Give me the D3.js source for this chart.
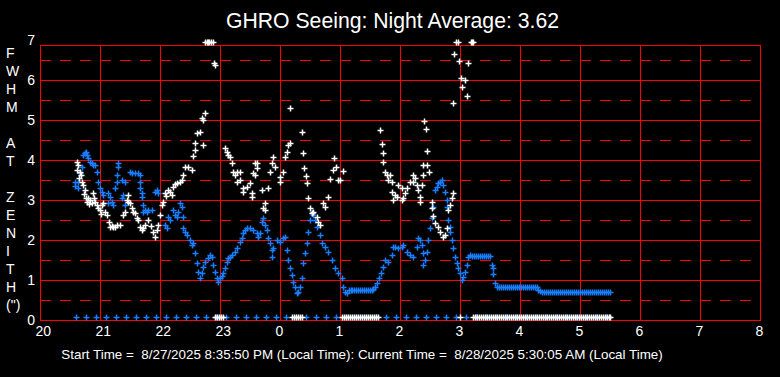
<!DOCTYPE html>
<html><head><meta charset="utf-8">
<script src="https://cdn.jsdelivr.net/npm/d3@7/dist/d3.min.js"></script>
<style>
html,body{margin:0;padding:0;background:#000;}
svg{display:block;font-family:"Liberation Sans",Arial,sans-serif;}
</style>
</head><body>
<svg id="chart" width="780" height="377"></svg>
<script>
// ---------------- data ----------------
const titleText = "GHRO Seeing: Night Average: 3.62";
const footerText = "Start Time =  8/27/2025 8:35:50 PM (Local Time): Current Time =  8/28/2025 5:30:05 AM (Local Time)";
const yLabelLetters = ["F","W","H","M","","A","T","","Z","E","N","I","T","H","(\")"];
const xTickHours = [20,21,22,23,24,25,26,27,28,29,30,31,32];
const xTickLabels = ["20","21","22","23","0","1","2","3","4","5","6","7","8"];
const yTickValues = [0,1,2,3,4,5,6,7];
const yDashValues = [0.5,1.5,2.5,3.5,4.5,5.5,6.5];

// white series: [hour, FWHM]
const whitePoints = [
[20.61,3.96],[20.62,3.75],[20.63,3.88],[20.65,3.55],[20.67,3.7],[20.69,3.63],[20.7,3.45],[20.72,3.38],[20.73,3.15],
[20.75,3.25],[20.77,3.05],[20.78,2.95],[20.8,3.05],[20.82,2.9],[20.83,3.0],[20.87,2.93],[20.88,3.18],[20.9,3.05],
[20.92,2.95],[20.95,2.88],[20.97,2.8],[21.0,2.75],[21.02,2.65],[21.03,2.88],[21.05,2.93],[21.08,2.7],[21.12,2.63],
[21.15,2.45],[21.17,2.33],[21.2,2.35],[21.22,2.33],[21.25,2.33],[21.28,2.38],[21.33,2.38],[21.38,2.63],[21.42,2.7],
[21.45,3.0],[21.47,3.13],[21.47,2.95],[21.5,2.93],[21.53,2.8],[21.55,2.7],[21.58,2.68],[21.62,2.55],[21.63,2.5],
[21.67,2.33],[21.7,2.25],[21.72,2.3],[21.75,2.38],[21.8,2.5],[21.85,2.35],[21.88,2.2],[21.92,2.08],[21.95,2.25],
[21.97,2.38],[22.0,2.63],[22.03,2.88],[22.05,2.95],[22.08,3.18],[22.1,3.1],[22.13,3.25],[22.17,3.2],[22.2,3.13],
[22.22,3.33],[22.25,3.4],[22.28,3.43],[22.33,3.45],[22.37,3.5],[22.38,3.63],[22.42,3.83],[22.47,3.83],[22.53,3.75],
[22.55,4.1],[22.58,4.25],[22.58,4.43],[22.62,4.68],[22.67,4.7],[22.7,5.05],[22.72,4.38],[22.72,5.0],[22.75,5.18],
[22.75,6.95],[22.78,6.95],[22.8,6.95],[22.82,6.95],[22.85,6.95],[22.88,6.95],[22.9,6.43],[22.92,6.38],
[23.08,4.3],[23.11,4.21],[23.13,4.13],[23.17,4.08],[23.2,3.93],[23.22,3.7],[23.25,3.63],[23.28,3.7],[23.33,3.7],
[23.28,3.45],[23.33,3.5],[23.38,3.3],[23.38,3.2],[23.45,3.33],[23.5,3.43],[23.53,3.18],[23.53,3.08],[23.55,3.68],
[23.58,3.63],[23.58,3.93],[23.62,3.93],[23.62,3.8],[23.7,3.25],[23.8,3.3],[23.75,2.93],[23.72,2.8],[23.75,2.75],
[23.87,3.93],[23.88,4.08],[23.92,3.83],[23.83,3.7],[24.05,3.7],[24.0,3.58],[24.0,3.45],[24.08,4.08],[24.12,4.2],
[24.13,4.38],[24.17,4.43],[24.17,5.3],[24.37,4.7],[24.38,4.18],[24.4,3.8],[24.43,3.6],[24.45,3.43],[24.47,3.05],
[24.5,2.8],[24.53,2.68],[24.55,2.7],[24.62,2.58],[24.63,2.45],[24.67,2.38],[24.72,2.93],[24.75,2.83],[24.8,3.08],
[24.83,3.53],[24.88,3.75],[24.9,4.05],[24.93,3.83],[24.97,3.5],[25.0,3.5],[25.05,3.73],
[25.67,4.75],[25.7,4.4],[25.72,4.18],[25.72,3.95],[25.75,3.7],[25.78,3.63],[25.8,3.5],[25.83,3.63],[25.87,3.45],
[25.87,3.2],[25.92,3.13],[25.88,3.0],[25.95,3.08],[25.97,3.38],[26.03,3.3],[26.05,3.05],[26.08,3.18],[26.03,3.0],
[26.12,3.3],[26.17,3.45],[26.22,3.63],[26.25,3.55],[26.22,3.45],[26.28,3.38],[26.3,3.25],[26.33,3.08],[26.33,2.95],
[26.37,3.38],[26.38,3.63],[26.4,4.98],[26.43,4.78],[26.45,4.23],[26.38,3.88],[26.45,3.88],[26.48,3.7],[26.53,2.95],
[26.53,2.8],[26.55,2.6],[26.58,2.43],[26.63,2.33],[26.67,2.2],[26.72,2.08],[26.75,2.13],[26.78,2.3],[26.8,2.75],
[26.83,2.88],[26.87,3.05],[26.88,3.18],[26.88,5.43],[26.9,6.65],[26.94,6.95],[26.96,6.95],[26.98,6.48],[27.02,6.05],
[27.03,5.83],[27.08,6.0],[27.12,5.6],[27.13,6.43],[27.18,6.95],[27.2,6.95],[27.22,6.95]
];

// blue series: [hour, FWHM]
const bluePoints = [
[20.58,3.45],[20.58,3.35],[20.63,3.45],[20.63,3.3],[20.67,3.68],[20.7,3.83],[20.72,4.13],[20.75,4.18],[20.77,4.2],
[20.78,4.13],[20.8,4.05],[20.83,3.95],[20.87,3.93],[20.88,3.88],[20.92,3.88],[20.95,3.7],[20.97,3.45],[21.0,3.3],
[21.03,3.2],[21.05,3.13],[21.13,3.18],[21.13,2.93],[21.17,3.08],[21.2,2.95],[21.22,2.88],[21.25,3.3],[21.28,3.45],
[21.28,3.63],[21.3,3.83],[21.3,3.93],[21.37,3.5],[21.37,3.05],[21.38,3.13],[21.42,3.45],[21.42,2.88],[21.5,3.7],
[21.53,3.68],[21.58,3.68],[21.63,3.68],[21.67,3.63],[21.67,3.45],[21.67,3.3],[21.7,3.18],[21.7,3.08],[21.72,2.88],
[21.72,2.7],[21.75,2.75],[21.78,2.7],[21.8,2.75],[21.87,2.75],[21.92,3.2],[21.95,3.25],[21.97,3.18],
[22.08,2.38],[22.12,2.3],[22.13,2.58],[22.17,2.5],[22.22,2.75],[22.25,2.63],[22.28,2.58],[22.3,2.7],[22.33,2.93],
[22.37,2.83],[22.38,2.58],[22.38,2.3],[22.42,2.2],[22.45,2.13],[22.5,2.0],[22.53,1.88],[22.55,1.93],[22.58,1.68],
[22.62,1.43],[22.63,1.2],[22.67,1.05],[22.7,1.18],[22.72,1.33],[22.75,1.45],[22.8,1.55],[22.83,1.63],[22.87,1.58],
[22.88,1.38],[22.92,1.2],[22.95,1.05],[22.97,0.95],[23.0,1.05],[23.03,1.1],[23.05,1.18],[23.08,1.3],[23.12,1.45],
[23.13,1.55],[23.17,1.58],[23.2,1.63],[23.25,1.7],[23.28,1.8],[23.33,1.95],[23.37,2.05],[23.38,2.18],[23.42,2.25],
[23.45,2.3],[23.5,2.3],[23.55,2.25],[23.62,2.18],[23.63,2.08],[23.67,2.18],[23.7,2.45],[23.72,2.55],[23.75,2.38],
[23.78,2.25],[23.8,2.05],[23.83,1.93],[23.87,1.75],[23.87,1.58],[23.88,1.8],[23.95,2.0],[24.0,1.95],[24.05,2.05],
[24.08,2.08],[24.12,1.75],[24.13,1.5],[24.17,1.3],[24.2,1.13],[24.22,0.95],[24.25,0.83],[24.28,0.68],[24.3,0.7],
[24.33,0.83],[24.37,1.05],[24.38,1.43],[24.42,1.68],[24.45,1.93],[24.47,2.2],[24.5,2.5],[24.53,2.68],[24.55,2.63],
[24.58,2.5],[24.62,2.33],[24.67,2.13],[24.7,1.93],[24.75,1.83],[24.8,1.7],[24.87,1.5],[24.92,1.3],[24.97,1.18],
[25.03,1.05],[25.05,0.83],[25.08,0.7],[25.12,0.68],[25.15,0.75],[25.18,0.75],[25.2,0.75],[25.23,0.75],[25.27,0.75],
[25.3,0.75],[25.33,0.75],[25.37,0.75],[25.4,0.75],[25.43,0.75],[25.47,0.75],[25.5,0.75],[25.53,0.75],[25.55,0.78],
[25.58,0.83],[25.62,0.93],[25.65,1.05],[25.68,1.18],[25.72,1.33],[25.75,1.5],[25.8,1.45],[25.87,1.63],[25.88,1.83],
[25.92,1.83],[25.97,1.8],[26.03,1.83],[26.05,1.88],[26.12,1.7],[26.17,1.63],[26.22,1.58],[26.28,1.83],[26.3,2.05],
[26.33,2.0],[26.37,1.88],[26.38,1.68],[26.42,1.5],[26.38,1.38],[26.45,1.7],[26.47,2.0],[26.5,2.3],[26.53,2.55],
[26.55,2.83],[26.58,3.25],[26.62,3.33],[26.63,3.43],[26.67,3.45],[26.7,3.5],[26.72,3.38],[26.75,3.2],[26.78,3.0],
[26.78,2.83],[26.8,2.5],[26.83,2.33],[26.83,2.2],[26.87,2.0],[26.88,1.8],[26.92,1.58],[26.95,1.43],[26.97,1.3],
[27.0,1.18],[27.03,1.0],[27.05,1.08],[27.08,1.2],[27.12,1.38],[27.13,1.58],[27.17,1.63],[27.2,1.6],[27.23,1.6],
[27.27,1.6],[27.3,1.6],[27.33,1.6],[27.37,1.6],[27.4,1.6],[27.43,1.6],[27.47,1.6],[27.5,1.6],[27.53,1.38],
[27.55,1.3],[27.55,1.15],[27.58,0.93],[27.62,0.83],[27.65,0.83],[27.68,0.83],[27.72,0.83],[27.75,0.83],[27.78,0.83],
[27.82,0.83],[27.85,0.83],[27.88,0.83],[27.92,0.83],[27.95,0.83],[27.98,0.83],[28.02,0.83],[28.05,0.83],[28.08,0.83],
[28.12,0.83],[28.15,0.83],[28.18,0.83],[28.22,0.83],[28.25,0.83],[28.28,0.83],[28.3,0.75],[28.33,0.73],[28.37,0.7],
[28.4,0.7],[28.43,0.7],[28.47,0.7],[28.5,0.7],[28.53,0.7],[28.57,0.7],[28.6,0.7],[28.63,0.7],[28.67,0.7],[28.7,0.7],
[28.73,0.7],[28.77,0.7],[28.8,0.7],[28.83,0.7],[28.87,0.7],[28.9,0.7],[28.93,0.7],[28.97,0.7],[29.0,0.7],[29.03,0.7],
[29.07,0.7],[29.1,0.7],[29.13,0.7],[29.17,0.7],[29.2,0.7],[29.23,0.7],[29.27,0.7],[29.3,0.7],[29.33,0.7],[29.37,0.7],
[29.4,0.7],[29.43,0.7],[29.47,0.7],[29.5,0.7]
];

// samples with no measurement (plotted at 0)
const whiteZeroHours = [
22.92,22.95,22.98,23.02,23.05,
24.2,24.23,24.27,24.3,24.33,24.36,
25.03,25.07,25.1,25.13,25.17,25.2,25.23,25.27,25.3,25.33,25.37,25.4,25.43,25.47,25.5,25.53,25.57,25.6,25.63,
27.0,
27.22,27.25,27.28,27.32,27.35,27.38,27.42,27.45,27.48,27.52,27.55,27.58,27.62,27.65,27.68,27.72,27.75,27.78,
27.82,27.85,27.88,27.92,27.95,27.98,28.02,28.05,28.08,28.12,28.15,28.18,28.22,28.25,28.28,28.32,28.35,28.38,
28.42,28.45,28.48,28.52,28.55,28.58,28.62,28.65,28.68,28.72,28.75,28.78,28.82,28.85,28.88,28.92,28.95,28.98,
29.02,29.05,29.08,29.12,29.15,29.18,29.22,29.25,29.28,29.32,29.35,29.38,29.42,29.45,29.48,29.5
];
const blueZeroHours = [
20.6,20.77,20.93,21.1,21.27,21.43,21.6,21.77,21.93,22.1,22.27,22.43,22.6,22.77,22.93,23.1,23.27,23.43,
23.6,23.77,23.93,24.1,24.27,24.43,24.6,24.77,24.93,25.1,25.27,25.43,25.6,25.77,25.93,26.1,26.27,26.43,
26.6,26.77,26.93,27.1,27.27,27.43,27.6,27.77,27.93,28.1,28.27,28.43,28.6,28.77,28.93,29.1,29.27,29.43
];

// ---------------- drawing ----------------
const RED = "#ff0000", BLUE = "#1a7eff", WHITE = "#ffffff";
const svg = d3.select("#chart");
svg.append("rect").attr("width",780).attr("height",377).attr("fill","#000");

const x = d3.scaleLinear().domain([20,32]).range([40,760]);
const y = d3.scaleLinear().domain([0,7]).range([320,40]);
const frameTop = y(7) + 5;
const px = v => Math.round(v) + 0.5;

const grid = svg.append("g").attr("stroke",RED).attr("stroke-width",1).attr("shape-rendering","crispEdges");
// dashed half-unit lines
grid.selectAll("line.dash").data(yDashValues).join("line").attr("class","dash")
  .attr("x1",x(20)).attr("x2",x(32)).attr("y1",d=>px(y(d))).attr("y2",d=>px(y(d)))
  .attr("stroke-dasharray","11,9");
// solid integer lines
grid.selectAll("line.h").data(yTickValues.filter(v=>v<7)).join("line").attr("class","h")
  .attr("x1",x(20)).attr("x2",x(32)).attr("y1",d=>px(y(d))).attr("y2",d=>px(y(d)));
grid.append("line").attr("x1",x(20)).attr("x2",x(32)).attr("y1",px(frameTop)).attr("y2",px(frameTop));
// vertical hour lines
grid.selectAll("line.v").data(xTickHours).join("line").attr("class","v")
  .attr("x1",d=>px(x(d))).attr("x2",d=>px(x(d))).attr("y1",frameTop).attr("y2",y(0)+1);

// plus markers
function drawMarkers(data, color, dy){
  svg.append("g")
    .selectAll("path").data(data).join("path")
    .attr("d","M-3,0H3M0,-3V3")
    .attr("transform",d=>`translate(${px(x(d[0]))},${px(y(d[1])+dy)})`)
    .attr("fill","none").attr("stroke",color).attr("stroke-width",1.5);
}
drawMarkers(blueZeroHours.map(h=>[h,0]), BLUE, -3.5);
drawMarkers(whiteZeroHours.map(h=>[h,0]), WHITE, -3.5);
drawMarkers(bluePoints, BLUE, 0);
drawMarkers(whitePoints, WHITE, 0);

// y tick labels
svg.append("g").selectAll("text").data(yTickValues).join("text")
  .attr("x",35).attr("y",d=>y(d)+5).attr("text-anchor","end")
  .attr("fill",WHITE).attr("font-size",14).text(d=>d);
// x tick labels (left-aligned just before each hour line)
svg.append("g").selectAll("text").data(xTickHours).join("text")
  .attr("x",d=>x(d)-4.5).attr("y",336).attr("text-anchor","start")
  .attr("fill",WHITE).attr("font-size",14).text((d,i)=>xTickLabels[i]);
// vertical axis title, one letter per line
svg.append("g").selectAll("text").data(yLabelLetters).join("text")
  .attr("x",6).attr("y",(d,i)=>58+i*18).attr("fill",WHITE).attr("font-size",14).text(d=>d);
// title
svg.append("text").attr("x",392.5).attr("y",28).attr("text-anchor","middle")
  .attr("fill",WHITE).attr("font-size",21.2).text(titleText);
// footer
svg.append("text").attr("x",362).attr("y",359).attr("text-anchor","middle")
  .attr("fill",WHITE).attr("font-size",13.4).style("white-space","pre").text(footerText);
</script>
</body></html>
